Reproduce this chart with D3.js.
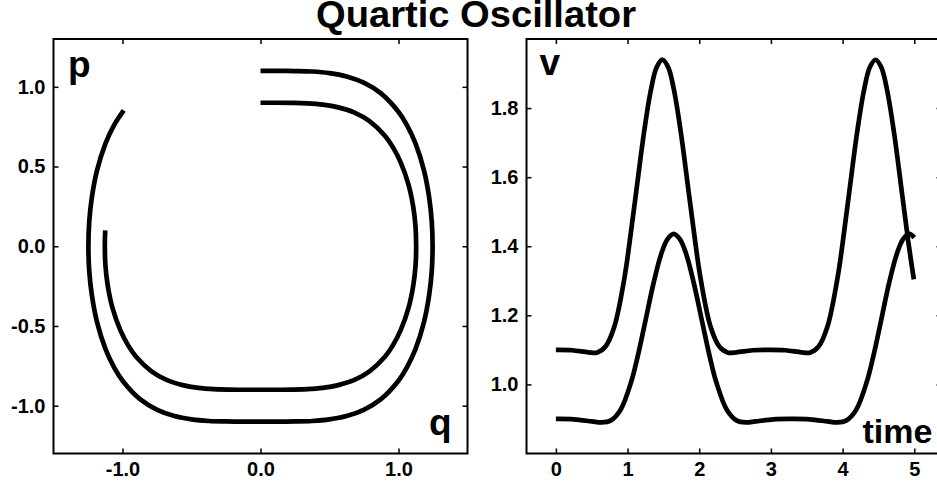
<!DOCTYPE html>
<html>
<head>
<meta charset="utf-8">
<script src="https://cdn.jsdelivr.net/npm/d3@7"></script>
<style>
    body { margin: 0; background: #fff; }
    svg { display: block; font-family: 'Liberation Sans', Arial, Helvetica, sans-serif; font-weight: bold; }
</style>
</head>
<body>
<svg id="chart" width="937" height="482"></svg>
<script>
// 相空间轨道 (q, p)
const outerOrbit = [
    [0, 1.100], [0.125, 1.100], [0.249, 1.099], [0.374, 1.096], [0.499, 1.086], [0.624, 1.065],
    [0.748, 1.026], [0.873, 0.959], [0.998, 0.845], [1.060, 0.761], [1.123, 0.645], [1.185, 0.474],
    [1.222, 0.307], [1.241, 0.155], [1.247, 0],
    [1.241, -0.155], [1.222, -0.307], [1.185, -0.474], [1.123, -0.645], [1.060, -0.761], [0.998, -0.845],
    [0.873, -0.959], [0.748, -1.026], [0.624, -1.065], [0.499, -1.086], [0.374, -1.096], [0.249, -1.099],
    [0.125, -1.100], [0, -1.100],
    [-0.125, -1.100], [-0.249, -1.099], [-0.374, -1.096], [-0.499, -1.086], [-0.624, -1.065], [-0.748, -1.026],
    [-0.873, -0.959], [-0.998, -0.845], [-1.060, -0.761], [-1.123, -0.645], [-1.185, -0.474], [-1.222, -0.307],
    [-1.241, -0.155], [-1.247, 0],
    [-1.241, 0.155], [-1.222, 0.307], [-1.185, 0.474], [-1.123, 0.645], [-1.060, 0.761], [-0.991, 0.852],
]

const innerOrbit = [
    [0, 0.900], [0.113, 0.900], [0.226, 0.899], [0.338, 0.896], [0.451, 0.888], [0.564, 0.871],
    [0.677, 0.840], [0.790, 0.785], [0.903, 0.692], [0.959, 0.622], [1.015, 0.528], [1.072, 0.388],
    [1.106, 0.251], [1.123, 0.127], [1.128, 0],
    [1.123, -0.127], [1.106, -0.251], [1.072, -0.388], [1.015, -0.528], [0.959, -0.622], [0.903, -0.692],
    [0.790, -0.785], [0.677, -0.840], [0.564, -0.871], [0.451, -0.888], [0.338, -0.896], [0.226, -0.899],
    [0.113, -0.900], [0, -0.900],
    [-0.113, -0.900], [-0.226, -0.899], [-0.338, -0.896], [-0.451, -0.888], [-0.564, -0.871], [-0.677, -0.840],
    [-0.790, -0.785], [-0.903, -0.692], [-0.959, -0.622], [-1.015, -0.528], [-1.072, -0.388], [-1.106, -0.251],
    [-1.123, -0.127], [-1.128, 0], [-1.125, 0.100],
]

// v 随时间 (time, v)
const upperV = [
    [0, 1.100], [0.227, 1.099], [0.455, 1.093], [0.571, 1.092], [0.690, 1.109], [0.815, 1.167],
    [0.953, 1.304], [1.030, 1.414], [1.119, 1.555], [1.230, 1.730], [1.325, 1.852], [1.406, 1.918],
    [1.487, 1.940], [1.567, 1.918], [1.648, 1.852], [1.743, 1.730], [1.854, 1.555], [1.943, 1.414],
    [2.021, 1.304], [2.158, 1.167], [2.283, 1.109], [2.402, 1.092], [2.518, 1.093], [2.746, 1.099],
    [2.973, 1.100], [3.200, 1.099], [3.428, 1.093], [3.544, 1.092], [3.663, 1.109], [3.788, 1.167],
    [3.926, 1.304], [4.004, 1.414], [4.092, 1.555], [4.203, 1.730], [4.299, 1.852], [4.380, 1.918],
    [4.460, 1.940], [4.540, 1.918], [4.621, 1.852], [4.717, 1.730], [4.828, 1.555], [4.916, 1.414],
    [4.994, 1.304],
]

const lowerV = [
    [0, 0.900], [0.251, 0.899], [0.503, 0.893], [0.631, 0.890], [0.762, 0.895], [0.901, 0.926],
    [1.053, 1.009], [1.139, 1.079], [1.237, 1.172], [1.360, 1.291], [1.465, 1.375], [1.555, 1.420],
    [1.643, 1.436], [1.732, 1.420], [1.822, 1.375], [1.927, 1.291], [2.050, 1.172], [2.148, 1.079],
    [2.234, 1.009], [2.386, 0.926], [2.525, 0.895], [2.656, 0.890], [2.784, 0.893], [3.036, 0.899],
    [3.287, 0.900], [3.538, 0.899], [3.790, 0.893], [3.918, 0.890], [4.049, 0.895], [4.188, 0.926],
    [4.340, 1.009], [4.426, 1.079], [4.524, 1.172], [4.646, 1.291], [4.752, 1.375], [4.842, 1.420],
    [4.930, 1.436], [5.000, 1.425],
]

const qTicks = [-1, 0, 1]
const pTicks = [-1, -0.5, 0, 0.5, 1]
const timeTicks = [0, 1, 2, 3, 4, 5]
const vTicks = [1.0, 1.2, 1.4, 1.6, 1.8]

const svg = d3.select('#chart')
const plotTop = 39
const plotBottom = 453.5

// 标题
svg.append('text')
    .attr('x', 476)
    .attr('y', 27)
    .attr('text-anchor', 'middle')
    .attr('font-size', 36.5)
    .attr('textLength', 320)
    .attr('lengthAdjust', 'spacingAndGlyphs')
    .text('Quartic Oscillator')

function drawPanel({ x, y, xTicks, yTicks, fmtX, fmtY, series }) {
    const [x0, x1] = x.range()
    const [y0, y1] = y.range()
    const g = svg.append('g')

    // 四边刻度都朝内
    g.append('g')
        .attr('transform', `translate(0,${y0})`)
        .call(d3.axisBottom(x).tickValues(xTicks).tickSize(-5).tickPadding(8).tickFormat(fmtX))
    g.append('g')
        .attr('transform', `translate(0,${y1})`)
        .call(d3.axisTop(x).tickValues(xTicks).tickSize(-5).tickFormat(''))
    g.append('g')
        .attr('transform', `translate(${x0},0)`)
        .call(d3.axisLeft(y).tickValues(yTicks).tickSize(-5).tickPadding(8).tickFormat(fmtY))
    g.append('g')
        .attr('transform', `translate(${x1},0)`)
        .call(d3.axisRight(y).tickValues(yTicks).tickSize(-5).tickFormat(''))

    g.selectAll('.domain').remove()
    g.selectAll('g')
        .attr('font-family', null)
        .attr('font-size', 20)
    g.selectAll('.tick line')
        .attr('stroke', '#000')
        .attr('stroke-width', 1.5)
    g.selectAll('.tick text').attr('fill', '#000')

    g.append('rect')
        .attr('x', x0)
        .attr('y', y1)
        .attr('width', x1 - x0)
        .attr('height', y0 - y1)
        .attr('fill', 'none')
        .attr('stroke', '#000')
        .attr('stroke-width', 2)

    const line = d3.line()
        .x(d => x(d[0]))
        .y(d => y(d[1]))
        .curve(d3.curveCatmullRom.alpha(0.5))

    series.forEach((s) => {
        g.append('path')
            .datum(s)
            .attr('d', line)
            .attr('fill', 'none')
            .attr('stroke', '#000')
            .attr('stroke-width', 4.7)
            .attr('stroke-linejoin', 'round')
    })
    return g
}

// 左图 相空间
const qScale = d3.scaleLinear().domain([-1.5, 1.5]).range([53.5, 467.5])
const pScale = d3.scaleLinear().domain([-1.3, 1.3]).range([plotBottom, plotTop])
const left = drawPanel({
    x: qScale,
    y: pScale,
    xTicks: qTicks,
    yTicks: pTicks,
    fmtX: d => d.toFixed(1),
    fmtY: d => d.toFixed(1),
    series: [outerOrbit, innerOrbit],
})
left.append('text').attr('x', 68).attr('y', 76.5).attr('font-size', 37).text('p')
left.append('text').attr('x', 429).attr('y', 434.6).attr('font-size', 37).text('q')

// 右图 v-time
const tScale = d3.scaleLinear().domain([-0.41, 5.38]).range([526.5, 941.5])
const vScale = d3.scaleLinear().domain([0.8, 2.0]).range([plotBottom, plotTop])
const right = drawPanel({
    x: tScale,
    y: vScale,
    xTicks: timeTicks,
    yTicks: vTicks,
    fmtX: d => d,
    fmtY: d => d.toFixed(1),
    series: [upperV, lowerV],
})
right.append('text').attr('x', 539.5).attr('y', 75).attr('font-size', 37).text('v')
right.append('text').attr('x', 862.5).attr('y', 443.3).attr('font-size', 34).text('time')
</script>
</body>
</html>
